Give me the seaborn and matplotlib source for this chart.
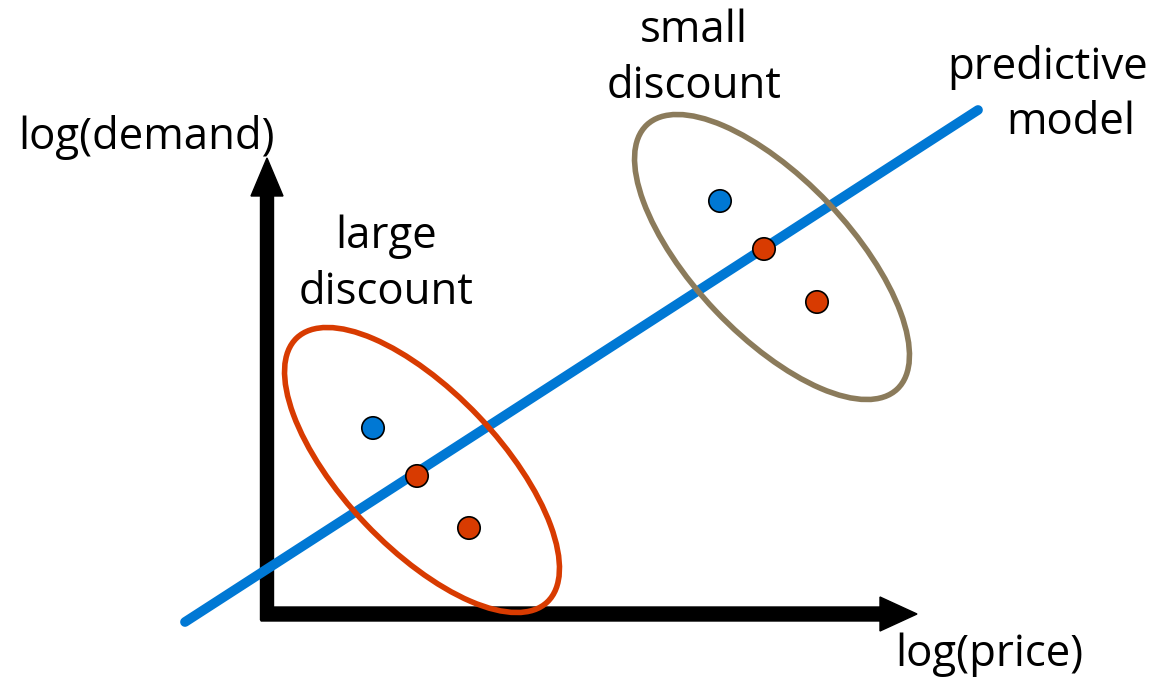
import matplotlib
matplotlib.use('Agg')
import matplotlib.pyplot as plt
import seaborn as sns
import pandas as pd
from matplotlib.patches import Ellipse

sns.set_style('white')
plt.rcParams['font.family'] = ['Open Sans', 'DejaVu Sans']

# canvas is in pixel units, y grows downward
point_x = [373, 417, 469, 720, 764, 817]
point_y = [428, 476, 528, 201, 249, 302]
point_kind = ['observed', 'predicted', 'predicted', 'observed', 'predicted', 'predicted']

model_x = [185, 978]
model_y = [622, 110]

group_names = ['large discount', 'small discount']
group_cx = [422, 772]
group_cy = [470, 257]
group_colors = ['#d83b01', '#8b7b5b']

blue = '#0078d4'
red = '#d83b01'

pts = pd.DataFrame({'x': point_x, 'y': point_y, 'kind': point_kind})
line = pd.DataFrame({'x': model_x, 'y': model_y})

fig = plt.figure(figsize=(11.53, 6.81), dpi=100)
ax = fig.add_axes([0, 0, 1, 1])
ax.set_xlim(0, 1153)
ax.set_ylim(681, 0)
ax.axis('off')

# axes arrows
ax.arrow(267, 620, 0, -462, width=13, head_width=32, head_length=38,
         length_includes_head=True, color='black', zorder=2)
ax.arrow(261, 614, 656, 0, width=14, head_width=34, head_length=37,
         length_includes_head=True, color='black', zorder=2)

# predictive model line
sns.lineplot(data=line, x='x', y='y', color=blue, linewidth=7, ax=ax, zorder=3)

# discount groups
for cx, cy, c in zip(group_cx, group_cy, group_colors):
    ax.add_patch(Ellipse((cx, cy), 364, 156, angle=46.5, fill=False,
                         edgecolor=c, linewidth=4, zorder=4))

sns.scatterplot(data=pts, x='x', y='y', hue='kind',
                palette={'observed': blue, 'predicted': red},
                s=260, edgecolor='black', linewidth=1.2, legend=False,
                ax=ax, zorder=5)
ax.set_xlabel('')
ax.set_ylabel('')

fs = 31.5
kw = dict(fontsize=fs, ha='center', va='center', color='black')
ax.text(147, 137, 'log(demand)', **kw)
ax.text(989, 655, 'log(price)', **kw)
ax.text(386, 237, 'large', **kw)
ax.text(386, 293, 'discount', **kw)
ax.text(694, 31, 'small', **kw)
ax.text(694, 87, 'discount', **kw)
ax.text(1048, 67, 'predictive', **kw)
ax.text(1071, 123, 'model', **kw)

fig.savefig('out.png', dpi=100)
